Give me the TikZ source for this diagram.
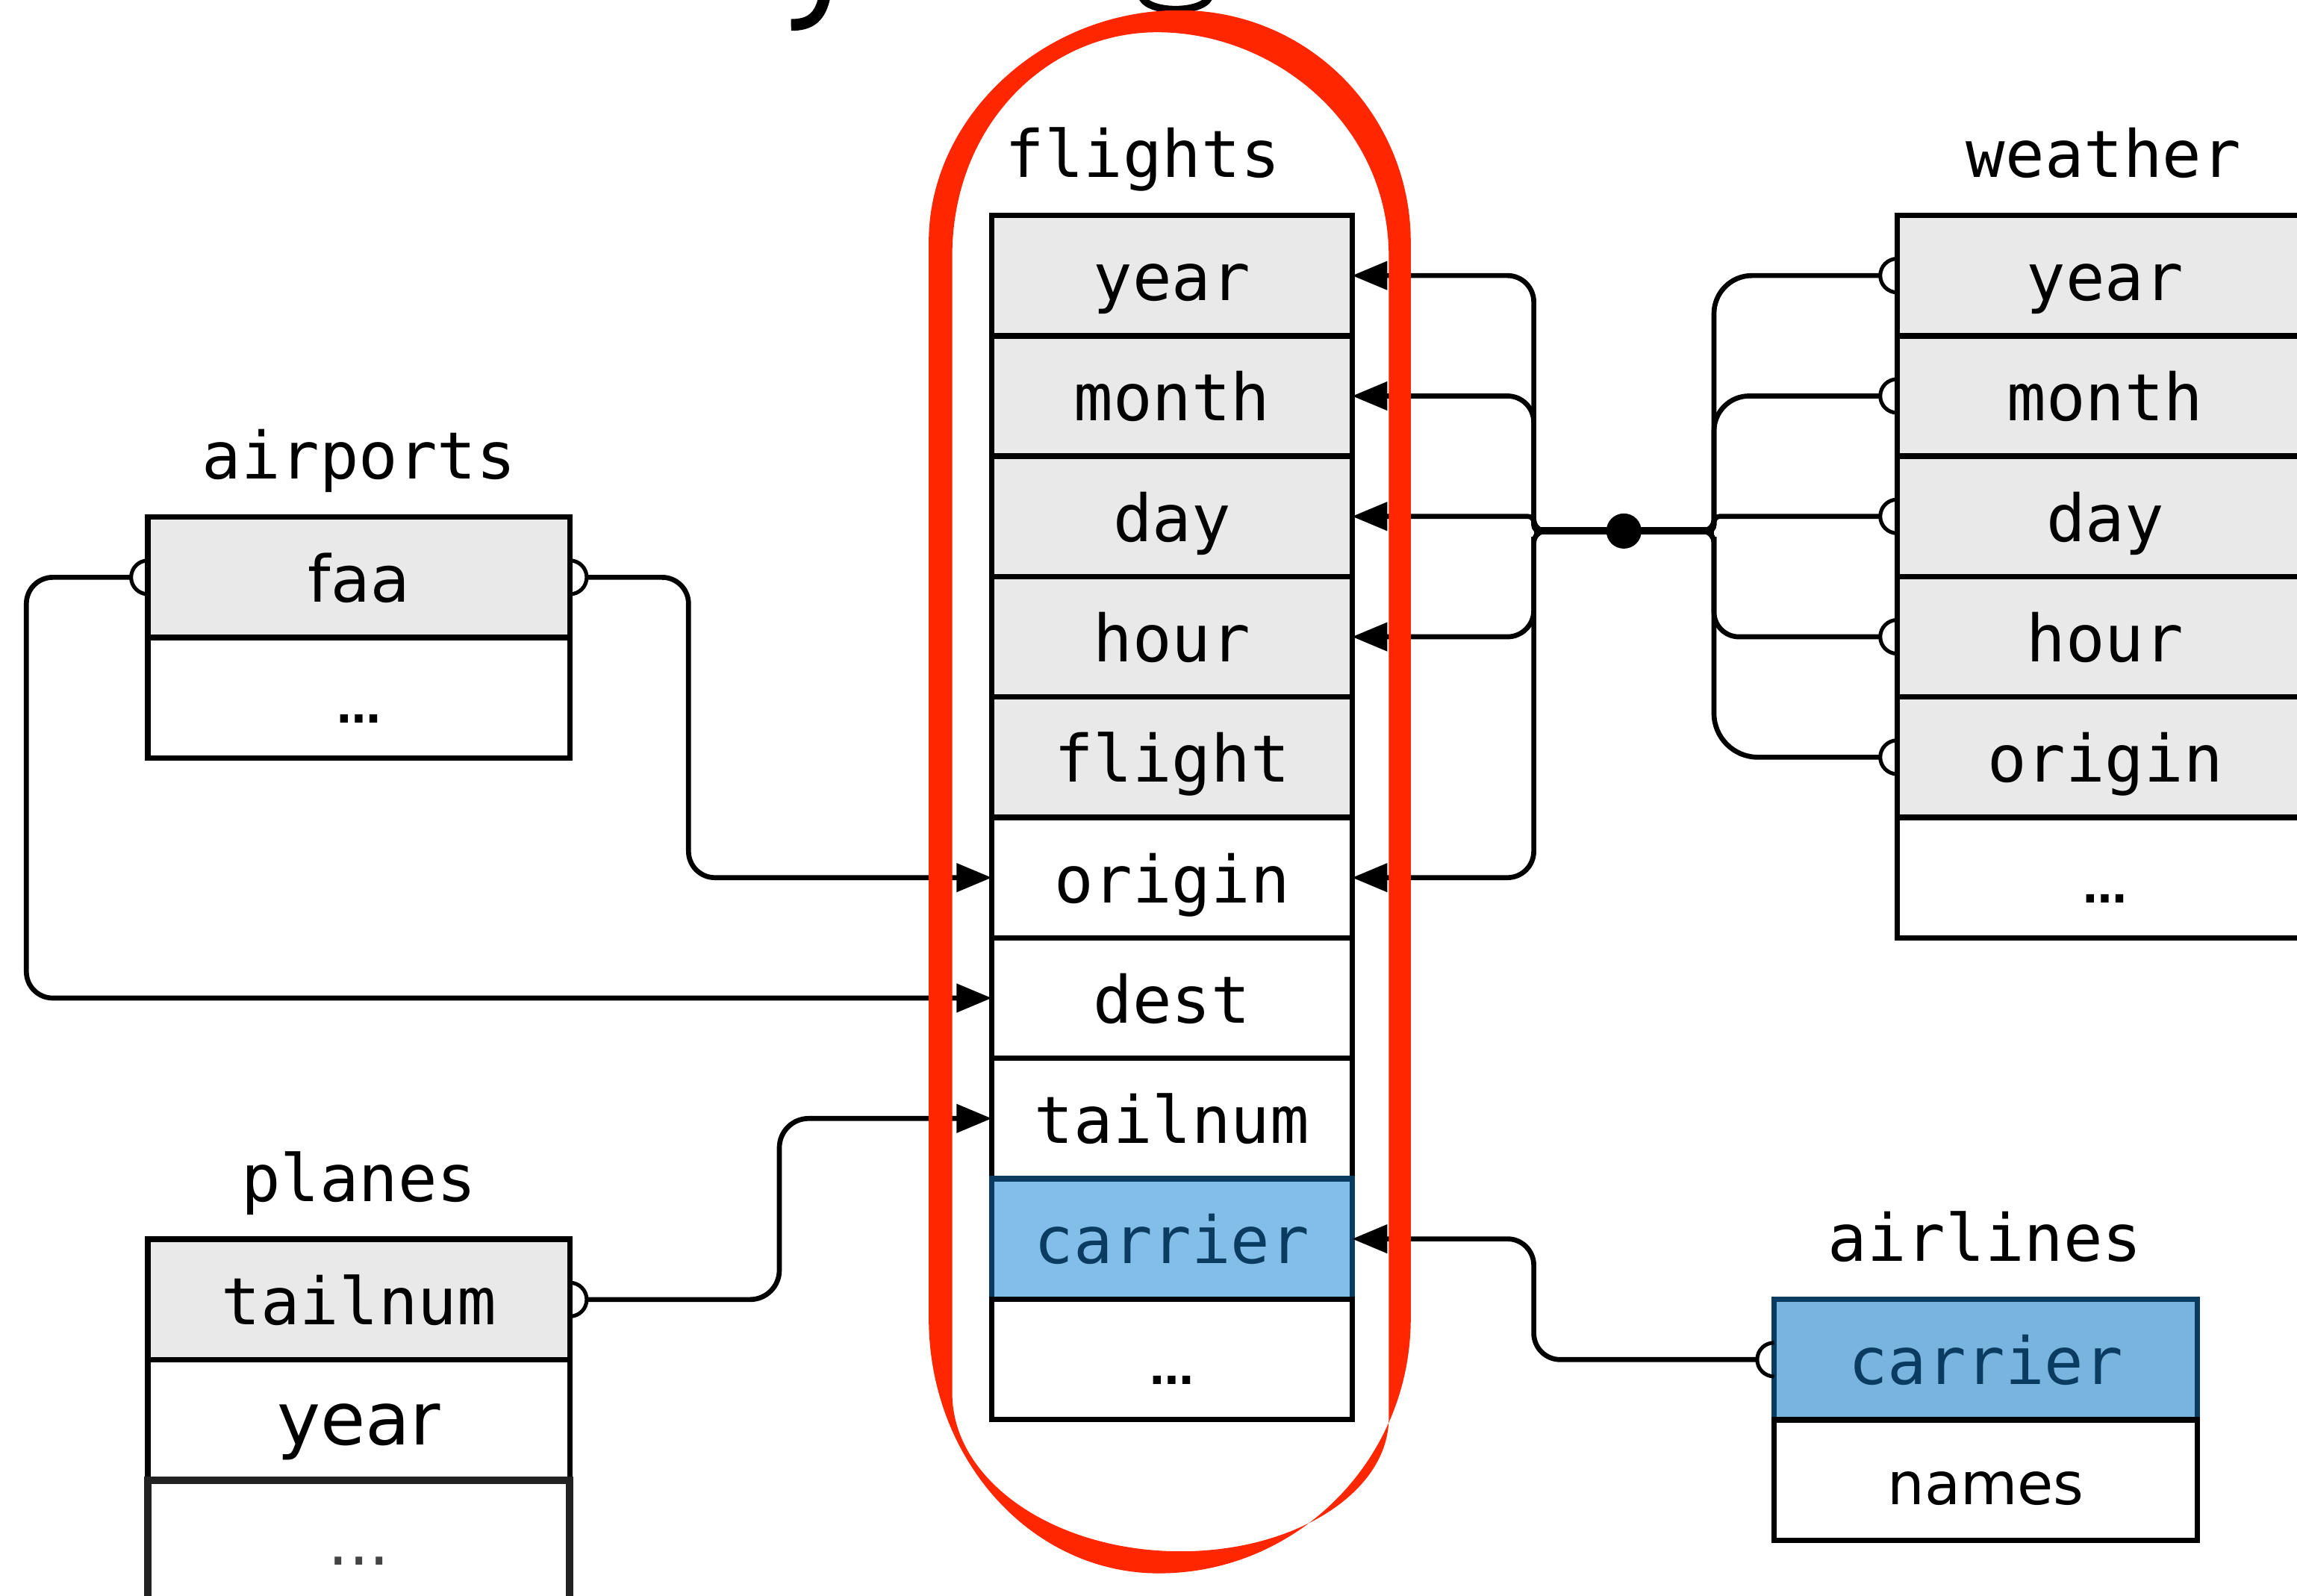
\documentclass[tikz,border=0pt]{standalone}
\usepackage{fontspec}
\usetikzlibrary{arrows.meta}
\newfontfamily\tblmono{DejaVu Sans Mono}
\newfontfamily\tblsans{DejaVu Sans}
\definecolor{keygray}{RGB}{233,233,233}
\definecolor{keyblue}{RGB}{130,190,232}
\definecolor{keyblueb}{RGB}{120,180,222}
\definecolor{keynavy}{RGB}{10,60,98}
\definecolor{markred}{RGB}{255,38,0}
\definecolor{dimline}{RGB}{34,34,34}
\definecolor{dimtext}{RGB}{68,68,68}

\tikzset{every picture/.style={line width=0.75pt}}
\tikzset{
  cell/.style={draw, fill=white, line width=1.9pt, inner sep=0pt, outer sep=0pt,
    minimum height=41.1pt, text height=17pt, text depth=0pt,
    font=\tblmono\fontsize{22.25pt}{26pt}\selectfont},
  keycell/.style={cell, fill=keygray},
  bluecell/.style={cell, fill=keyblue, draw=keynavy, text=keynavy},
  dimcell/.style={cell, draw=dimline, line width=2.6pt, text=dimtext,
    font=\tblsans\fontsize{22pt}{26pt}\selectfont},
  flcol/.style={minimum width=123pt},
  wecol/.style={minimum width=142pt},
  sidecol/.style={minimum width=144pt},
  sanstext/.style={font=\tblsans\fontsize{#1}{26pt}\selectfont},
  moretext/.style={font=\tblsans\bfseries\fontsize{15pt}{18pt}\selectfont},
  lbl/.style={anchor=base, inner sep=0pt, font=\tblmono\fontsize{22.25pt}{26pt}\selectfont},
  link/.style={line width=1.7pt},
  fk/.style={-{Triangle[length=12pt,width=9.5pt]}},
  halfring/.style={line width=1.3pt},
  hub/.style={circle, fill=black, inner sep=0pt, minimum size=12pt},
}

\begin{document}
\begin{tikzpicture}[x=0.5pt,y=0.5pt,yscale=-1,xscale=1]
	\useasboundingbox (0,0) rectangle (1568,1089);
	\clip (0,0) rectangle (1568,1089);
	
	%Title remnants cut by the top edge
	\draw [line width=4pt]  (563,-3) .. controls (560,12) and (553,17) .. (540,17) ;
	\draw [line width=2.5pt]  (779,-4) .. controls (780,10) and (825,10) .. (826,-4) ;
	
	%Table: airports
	\node [lbl] (lb-airports) at (245,327) {airports};
	\node [keycell,sidecol,sanstext=22pt] (ap-faa) at (245,394.1) {faa};
	\node [cell,sidecol,moretext] (ap-more) at (245,476.3) {…};
	
	%Table: flights
	\node [lbl] (lb-flights) at (780,121) {flights};
	\node [keycell,flcol] (fl-year) at (800,188.1) {year};
	\node [keycell,flcol] (fl-month) at (800,270.3) {month};
	\node [keycell,flcol] (fl-day) at (800,352.5) {day};
	\node [keycell,flcol] (fl-hour) at (800,434.7) {hour};
	\node [keycell,flcol] (fl-flight) at (800,516.9) {flight};
	\node [cell,flcol] (fl-origin) at (800,599.1) {origin};
	\node [cell,flcol] (fl-dest) at (800,681.3) {dest};
	\node [cell,flcol] (fl-tailnum) at (800,763.5) {tailnum};
	\node [bluecell,flcol] (fl-carrier) at (800,845.7) {carrier};
	\node [cell,flcol,moretext] (fl-more) at (800,927.9) {…};
	
	%Table: weather
	\node [lbl] (lb-weather) at (1436,121) {weather};
	\node [keycell,wecol] (we-year) at (1437,188.1) {year};
	\node [keycell,wecol] (we-month) at (1437,270.3) {month};
	\node [keycell,wecol] (we-day) at (1437,352.5) {day};
	\node [keycell,wecol] (we-hour) at (1437,434.7) {hour};
	\node [keycell,wecol] (we-origin) at (1437,516.9) {origin};
	\node [cell,wecol,moretext] (we-more) at (1437,599.1) {…};
	
	%Table: planes
	\node [lbl] (lb-planes) at (245,820) {planes};
	\node [keycell,sidecol] (pl-tailnum) at (245,887.1) {tailnum};
	\node [cell,sidecol,sanstext=25pt] (pl-year) at (245,969.3) {year};
	\node [dimcell,sidecol] (pl-more) at (245,1051.5) {...};
	
	%Table: airlines
	\node [lbl] (lb-airlines) at (1355,861) {airlines};
	\node [bluecell,minimum width=144.5pt,fill=keyblueb] (al-carrier) at (1355.5,928.1) {carrier};
	\node [cell,minimum width=144.5pt,sanstext=20pt] (al-names) at (1355.5,1010.3) {names};
	
	%Hub between flights and weather
	\coordinate (lbus) at (1047,362.5);
	\coordinate (rbus) at (1170,362.5);
	\draw [link,line width=2.6pt]  (lbus) -- (rbus) ;
	\node [hub] (hub) at (1108.5,362.5) {};
	
	%Hub to flights
	\draw [link,fk,rounded corners=4pt]  (hub.center) -- (lbus) -- ([yshift=-6pt]lbus) [rounded corners=9pt] |- (fl-year.east) ;
	\draw [link,fk,rounded corners=4pt]  (hub.center) -- (lbus) -- ([yshift=-6pt]lbus) [rounded corners=9pt] |- (fl-month.east) ;
	\draw [link,fk,rounded corners=2pt]  (hub.center) -- (lbus) |- (fl-day.east) ;
	\draw [link,fk,rounded corners=4pt]  (hub.center) -- (lbus) -- ([yshift=6pt]lbus) [rounded corners=9pt] |- (fl-hour.east) ;
	\draw [link,fk,rounded corners=4pt]  (hub.center) -- (lbus) -- ([yshift=6pt]lbus) [rounded corners=9pt] |- (fl-origin.east) ;
	
	%Hub to weather
	\draw [link,rounded corners=4pt]  (hub.center) -- (rbus) -- ([yshift=-6pt]rbus) [rounded corners=13pt] |- ([xshift=-5.75pt]we-year.west) ;
	\draw [link,rounded corners=4pt]  (hub.center) -- (rbus) -- ([yshift=-6pt]rbus) [rounded corners=12pt] |- ([xshift=-5.75pt]we-month.west) ;
	\draw [link,rounded corners=2pt]  (hub.center) -- (rbus) |- ([xshift=-5.75pt]we-day.west) ;
	\draw [link,rounded corners=4pt]  (hub.center) -- (rbus) -- ([yshift=6pt]rbus) [rounded corners=8.5pt] |- ([xshift=-5.75pt]we-hour.west) ;
	\draw [link,rounded corners=4pt]  (hub.center) -- (rbus) -- ([yshift=6pt]rbus) [rounded corners=15pt] |- ([xshift=-5.75pt]we-origin.west) ;
	
	%Other keys into flights
	\draw [link,fk,rounded corners=9pt]  ([xshift=5.75pt]ap-faa.east) -- (470,394.1) |- (fl-origin.west) ;
	\draw [link,fk,rounded corners=9pt]  ([xshift=-5.75pt]ap-faa.west) -- (18,394.1) |- (fl-dest.west) ;
	\draw [link,fk,rounded corners=10pt]  ([xshift=5.75pt]pl-tailnum.east) -- (532,887.1) |- (fl-tailnum.west) ;
	\draw [link,fk,rounded corners=9pt]  ([xshift=-5.75pt]al-carrier.west) -- (1047,928.1) |- (fl-carrier.east) ;
	
	%Half rings on the key side
	\draw [halfring]  ([yshift=-5.75pt]ap-faa.east) arc (-90:90:11.5) ;
	\draw [halfring]  ([yshift=-5.75pt]ap-faa.west) arc (-90:-270:11.5) ;
	\draw [halfring]  ([yshift=-5.75pt]pl-tailnum.east) arc (-90:90:11.5) ;
	\draw [halfring]  ([yshift=-5.75pt]al-carrier.west) arc (-90:-270:11.5) ;
	\draw [halfring]  ([yshift=-5.75pt]we-year.west) arc (-90:-270:11.5) ;
	\draw [halfring]  ([yshift=-5.75pt]we-month.west) arc (-90:-270:11.5) ;
	\draw [halfring]  ([yshift=-5.75pt]we-day.west) arc (-90:-270:11.5) ;
	\draw [halfring]  ([yshift=-5.75pt]we-hour.west) arc (-90:-270:11.5) ;
	\draw [halfring]  ([yshift=-5.75pt]we-origin.west) arc (-90:-270:11.5) ;
	
	%Red ring round flights
	\fill [markred,even odd rule]  (805,7) .. controls (895,7) and (963,80) .. (963,165) -- (963,900) .. controls (963,996) and (886,1074) .. (791,1074) .. controls (704,1074) and (634,996) .. (634,900) -- (634,165) .. controls (634,80) and (712,7) .. (805,7) -- cycle
	  (790,22) .. controls (870,22) and (948,85) .. (948,175) -- (948,968) .. controls (948,1018) and (885,1059) .. (806,1059) .. controls (720,1059) and (650,1011) .. (650,951) -- (650,175) .. controls (650,85) and (715,22) .. (790,22) -- cycle ;
	
\end{tikzpicture}
\end{document}
